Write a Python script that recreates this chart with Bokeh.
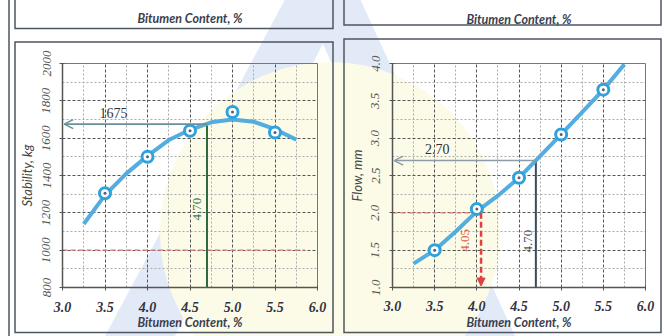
import math
from urllib.parse import quote
from bokeh.plotting import figure
from bokeh.layouts import row
from bokeh.models import (Range1d, FixedTicker, Arrow, OpenHead, NormalHead, Label,
                          PrintfTickFormatter, LinearAxis)
from bokeh.embed import file_html
from bokeh.resources import INLINE

# ---------------- data ----------------
bitumen_content = [3.5, 4.0, 4.5, 5.0, 5.5]
stability_kg = [1305, 1500, 1640, 1740, 1630]
flow_mm = [1.50, 2.05, 2.47, 3.05, 3.65]

curve_content = [3.25, 3.5, 3.75, 4.0, 4.25, 4.5, 4.75, 5.0, 5.25, 5.5, 5.75]
stability_curve = [1140, 1295, 1410, 1505, 1590, 1645, 1685, 1700, 1688, 1648, 1592]
flow_curve = [1.32, 1.50, 1.75, 2.02, 2.23, 2.47, 2.76, 3.05, 3.35, 3.65, 3.99]

x_ticks = [3.0, 3.5, 4.0, 4.5, 5.0, 5.5, 6.0]
x_minor = [3.25, 3.75, 4.25, 4.75, 5.25, 5.75]
stab_ticks = [800, 1000, 1200, 1400, 1600, 1800, 2000]
stab_minor = [900, 1100, 1300, 1500, 1700, 1900]
flow_ticks = [1.0, 1.5, 2.0, 2.5, 3.0, 3.5, 4.0]
flow_minor = [1.25, 1.75, 2.25, 2.75, 3.25, 3.75]

opt_content = 4.70
stab_at_opt = 1675
flow_at_opt = 2.70
min_stability = 1000
min_stab_span = [3.0, 5.85]
flow_limit = 2.0
content_at_flow_limit = 4.05

x_label = "Bitumen Content, %"

# ---------------- style ----------------
BLUE = "#4aa9de"
SERIF = "Liberation Serif"
SANS = "Lato"


def base_fig(w, h, left, right, top, bottom, y0, y1, yt, ym, ylabel, yfmt,
             xl_standoff, xa_standoff):
    p = figure(width=w, height=h, output_backend="svg", toolbar_location=None,
               x_range=Range1d(3.0, 6.0), y_range=Range1d(y0, y1),
               min_border_left=left, min_border_right=right,
               min_border_top=top, min_border_bottom=bottom,
               background_fill_alpha=0, border_fill_alpha=0)
    p.outline_line_color = "#777777"
    p.outline_line_width = 1
    p.xaxis.ticker = FixedTicker(ticks=x_ticks, minor_ticks=x_minor)
    p.yaxis.ticker = FixedTicker(ticks=yt, minor_ticks=ym)
    p.xaxis.formatter = PrintfTickFormatter(format="%.1f")
    p.yaxis.formatter = PrintfTickFormatter(format=yfmt)
    p.xgrid.ticker = FixedTicker(ticks=x_ticks[1:-1], minor_ticks=x_minor)
    p.ygrid.ticker = FixedTicker(ticks=yt[1:-1], minor_ticks=ym)
    for g in (p.xgrid, p.ygrid):
        g.grid_line_color = "#555555"
        g.grid_line_dash = "3 2"
        g.grid_line_width = 1
        g.minor_grid_line_color = "#aaaaaa"
        g.minor_grid_line_dash = "2 2"
        g.minor_grid_line_width = 1
    for ax in (p.xaxis, p.yaxis):
        ax.axis_line_color = "#555555"
        ax.axis_line_width = 1.5
        ax.major_tick_line_color = "#555555"
        ax.major_tick_in = 2
        ax.major_tick_out = 3
        ax.minor_tick_line_color = None
    p.xaxis.major_label_text_font = SERIF
    p.xaxis.major_label_text_font_style = "bold italic"
    p.xaxis.major_label_text_font_size = "14px"
    p.xaxis.major_label_text_color = "#333344"
    p.xaxis.major_label_standoff = xl_standoff
    p.xaxis.axis_label = x_label
    p.xaxis.axis_label_text_font = SANS
    p.xaxis.axis_label_text_font_style = "bold italic"
    p.xaxis.axis_label_text_font_size = "12.5px"
    p.xaxis.axis_label_text_color = "#3a3f50"
    p.xaxis.axis_label_standoff = xa_standoff
    p.yaxis.major_label_orientation = "vertical"
    p.yaxis.major_label_text_font = SERIF
    p.yaxis.major_label_text_font_style = "italic"
    p.yaxis.major_label_text_font_size = "13px"
    p.yaxis.major_label_text_color = "#555555"
    p.yaxis.major_label_standoff = 8
    p.yaxis.axis_label = ylabel
    p.yaxis.axis_label_text_font = SANS
    p.yaxis.axis_label_text_font_style = "italic"
    p.yaxis.axis_label_text_font_size = "13px"
    p.yaxis.axis_label_text_color = "#444444"
    p.yaxis.axis_label_standoff = 5
    return p


def header(p, standoff):
    # caption of the cut-off panel above: an unticked axis whose only content is its label
    ax = LinearAxis(ticker=FixedTicker(ticks=[]), axis_label=x_label,
                    axis_line_color=None, major_tick_line_color=None,
                    minor_tick_line_color=None, major_tick_in=0, major_tick_out=0,
                    major_label_standoff=0, axis_label_standoff=standoff,
                    axis_label_text_font=SANS, axis_label_text_font_style="bold italic",
                    axis_label_text_font_size="12.5px", axis_label_text_color="#3a3f50")
    p.add_layout(ax, "above")


def label(p, x, y, text, color, size="14px", angle=0.0):
    p.add_layout(Label(x=x, y=y, text=text, angle=angle,
                       text_font=SERIF, text_font_size=size,
                       text_color=color, text_align="center", text_baseline="middle"))


# ---------------- left: stability ----------------
p1 = base_fig(332, 336, 62, 15, 63, 44, 800, 2000, stab_ticks, stab_minor,
              "Stability, kg", "%d", 10, 0)
header(p1, 38)
p1.line(min_stab_span, [min_stability, min_stability], line_color="#e8767a",
        line_dash="5 3", line_width=1.2)
p1.line([opt_content, opt_content], [800, stab_at_opt], line_color="#2f6b3c", line_width=2)
p1.add_layout(Arrow(end=OpenHead(size=9, line_color="#6a8f9c", line_width=1.5),
                    x_start=opt_content, y_start=stab_at_opt, x_end=3.02, y_end=stab_at_opt,
                    line_color="#6a8f9c", line_width=1.8))
p1.line(curve_content, stability_curve, line_color=BLUE, line_width=4, line_alpha=0.95)
p1.scatter(bitumen_content, stability_kg, size=11, fill_color="white",
           line_color="#2fa2dc", line_width=3)
p1.scatter(bitumen_content, stability_kg, size=3, fill_color="#556070", line_color=None)
label(p1, 3.6, stab_at_opt + 58, f"{stab_at_opt}", "#333333")
label(p1, opt_content - 0.12, 1220, f"{opt_content:.2f}", "#3b7a4a", size="13px",
      angle=math.pi / 2)

# ---------------- right: flow ----------------
p2 = base_fig(332, 336, 60, 19, 58, 49, 1.0, 4.0, flow_ticks, flow_minor,
              "Flow, mm", "%.1f", 9, 1)
p2.yaxis.axis_label_standoff = 4
p2.yaxis.major_label_standoff = 9
header(p2, 37)
p2.line([3.0, content_at_flow_limit], [flow_limit, flow_limit], line_color="#e8767a",
        line_dash="5 3", line_width=1.2)
p2.add_layout(Arrow(end=NormalHead(size=8, fill_color="#e04040", line_color="#e04040"),
                    x_start=content_at_flow_limit, y_start=flow_limit,
                    x_end=content_at_flow_limit, y_end=1.02,
                    line_color="#e04040", line_width=2.5, line_dash="6 3"))
p2.line([opt_content, opt_content], [1.0, flow_at_opt], line_color="#3c4b5c", line_width=2)
p2.add_layout(Arrow(end=OpenHead(size=9, line_color="#8e9ca8", line_width=1.5),
                    x_start=opt_content, y_start=flow_at_opt, x_end=3.02, y_end=flow_at_opt,
                    line_color="#8e9ca8", line_width=1.5))
p2.line(curve_content, flow_curve, line_color=BLUE, line_width=4, line_alpha=0.95)
p2.scatter(bitumen_content, flow_mm, size=11, fill_color="white",
           line_color="#2fa2dc", line_width=3)
p2.scatter(bitumen_content, flow_mm, size=3, fill_color="#556070", line_color=None)
label(p2, 3.53, flow_at_opt + 0.15, f"{flow_at_opt:.2f}", "#333333")
label(p2, opt_content - 0.09, 1.62, f"{opt_content:.2f}", "#4b5b6b", size="13px",
      angle=math.pi / 2)
label(p2, content_at_flow_limit - 0.19, 1.63, f"{content_at_flow_limit:.2f}", "#e0604a",
      size="13px", angle=math.pi / 2)

# ---------------- page backdrop: faint scan watermark and panel frames ----------------
backdrop = (
    "<svg xmlns='http://www.w3.org/2000/svg' width='664' height='336'>"
    "<rect width='664' height='336' fill='white'/>"
    "<polygon points='290,-10 350,-10 175,336 105,336' fill='rgb(227,234,247)'/>"
    "<polygon points='300,-10 356,-10 515,336 448,336' fill='rgb(227,234,247)'/>"
    "<circle cx='330' cy='232' r='170' fill='rgb(252,251,231)'/>"
    "<g fill='none' stroke='rgb(77,85,96)' stroke-width='1.5'>"
    "<line x1='9' y1='0' x2='9' y2='336'/>"
    "<rect x='15' y='-5' width='318' height='33.5'/>"
    "<rect x='15' y='42' width='318' height='290.5'/>"
    "<rect x='344' y='-5' width='317' height='30'/>"
    "<rect x='344' y='39' width='317' height='293.5'/>"
    "</g></svg>"
)

layout = row(p1, p2, styles={
    "position": "absolute", "left": "0px", "top": "0px",
    "background": f"url(\"data:image/svg+xml,{quote(backdrop)}\") no-repeat 0 0 / 664px 336px",
})
open("out.html", "w").write(file_html(layout, INLINE))
